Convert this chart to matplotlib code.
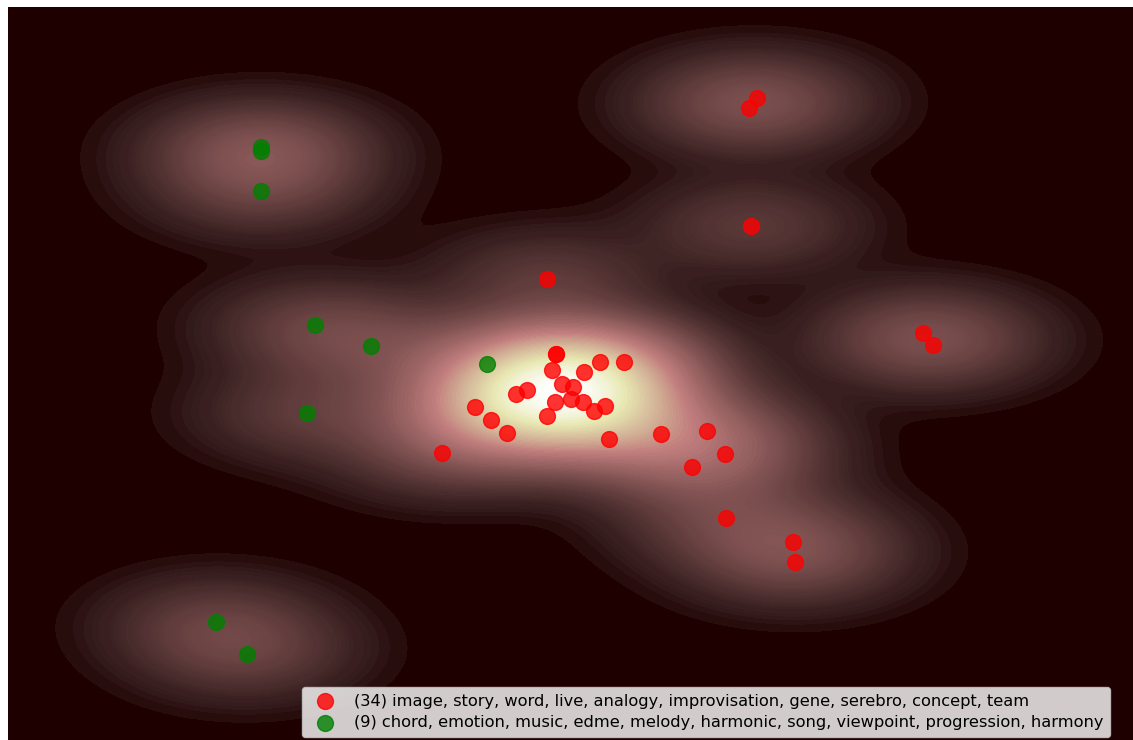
import numpy as np
import matplotlib
matplotlib.use("Agg")
import matplotlib.pyplot as plt


# cluster points (x to the right, y upward)
red_x = [757, 749, 751, 547, 923, 933, 556, 556, 600, 624, 552, 584, 562, 573,
         527, 516, 555, 571, 583, 594, 605, 475, 547, 491, 507, 609, 661, 707,
         442, 692, 725, 726, 793, 795]
red_y = [642, 632, 514, 461, 407, 395, 386, 386, 378, 378, 370, 368, 356, 353,
         350, 346, 338, 341, 338, 329, 334, 333, 324, 320, 307, 301, 306, 309,
         287, 273, 286, 222, 198, 178]
green_x = [261, 261, 261, 315, 371, 487, 307, 216, 247]
green_y = [593, 589, 549, 415, 394, 376, 327, 118, 86]

red_label = "(34) image, story, word, live, analogy, improvisation, gene, serebro, concept, team"
green_label = "(9) chord, emotion, music, edme, melody, harmonic, song, viewpoint, progression, harmony"

# kernel widths along each axis
bw_x = 69.3
bw_y = 30.3


def density_grid(x, y, gridsize=200, cut=3):
    x = np.asarray(x, float)
    y = np.asarray(y, float)
    gx = np.linspace(x.min() - cut * bw_x, x.max() + cut * bw_x, gridsize)
    gy = np.linspace(y.min() - cut * bw_y, y.max() + cut * bw_y, gridsize)
    xx, yy = np.meshgrid(gx, gy)
    dens = np.zeros_like(xx)
    for xi, yi in zip(x, y):
        dens += np.exp(-0.5 * ((xx - xi) / bw_x) ** 2 - 0.5 * ((yy - yi) / bw_y) ** 2)
    dens /= len(x) * 2 * np.pi * bw_x * bw_y
    return xx, yy, dens


def iso_levels(dens, n):
    # iso-proportion levels, like seaborn
    q = np.linspace(0, 1, n)
    vals = np.sort(dens.ravel())[::-1]
    cum = np.cumsum(vals) / vals.sum()
    idx = np.searchsorted(cum, 1 - q)
    return np.unique(np.take(vals, idx, mode="clip"))


def main():
    fig = plt.figure(figsize=(11.33, 7.40), dpi=100)
    # the axes runs a little past the right and bottom edges of the picture
    ax = fig.add_axes([8 / 1133, -5 / 740, 1133 / 1133, 738 / 740])

    xx, yy, dens = density_grid(red_x + green_x, red_y + green_y)
    ax.contourf(xx, yy, dens, levels=iso_levels(dens, 100), cmap="pink")
    ax.set_xlim(xx.min(), xx.max())
    ax.set_ylim(yy.min(), yy.max())

    ax.scatter(red_x, red_y, s=130, c="red", alpha=0.8, label=red_label, zorder=3)
    ax.scatter(green_x, green_y, s=130, c="green", alpha=0.8, label=green_label, zorder=3)
    ax.axis("off")

    ax.legend(loc="lower right", bbox_to_anchor=(1110 / 1133, 3 / 740),
              bbox_transform=fig.transFigure, borderaxespad=0, fontsize=11.7,
              labelspacing=0.42, borderpad=0.4)

    fig.savefig("out.png", dpi=100)
    plt.close(fig)


if __name__ == "__main__":
    main()
